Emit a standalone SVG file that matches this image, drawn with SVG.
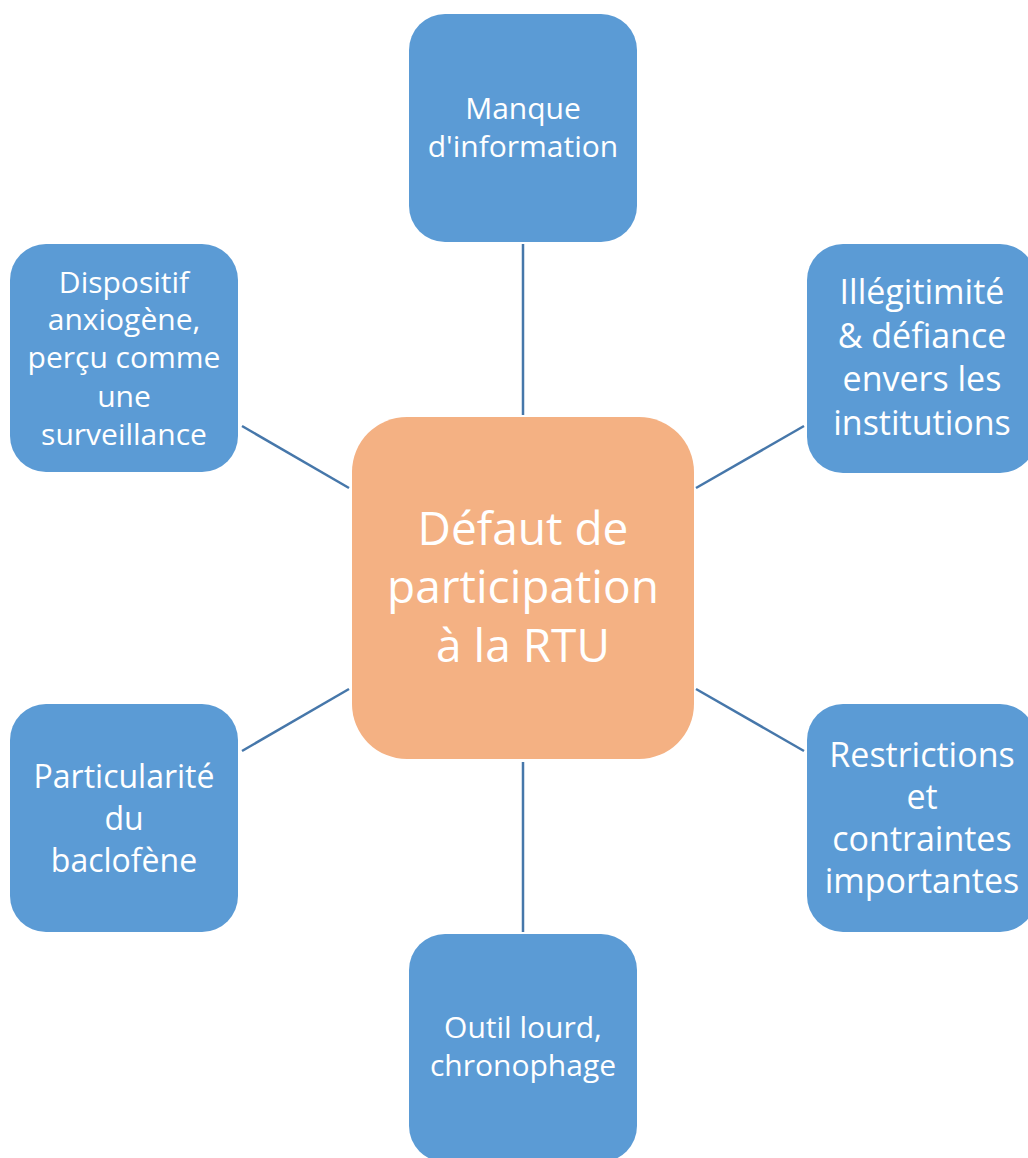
<svg xmlns="http://www.w3.org/2000/svg" width="1028" height="1158" viewBox="0 0 1028 1158">
<style>
.box{fill:#5B9BD5}
.core{fill:#F4B183}
.t{font-family:"Open Sans","Noto Sans",sans-serif;fill:#FFFFFF;text-anchor:middle}
.s{font-size:30px}
.m{font-size:34px}
.n{font-size:32px}
.l{font-size:46px}
.c{stroke:#4677AA;stroke-width:2.5;fill:none}
</style>
<rect width="1028" height="1158" fill="#FFFFFF"/>
<g id="connectors">
<line class="c" x1="523" y1="244" x2="523" y2="415"/>
<line class="c" x1="242" y1="426" x2="349" y2="488"/>
<line class="c" x1="696" y1="488" x2="804" y2="426"/>
<line class="c" x1="242" y1="751" x2="349" y2="689"/>
<line class="c" x1="696" y1="689" x2="804" y2="751"/>
<line class="c" x1="523" y1="762" x2="523" y2="932"/>
</g>
<g id="center">
<rect class="core" x="352" y="417" width="342" height="342" rx="55"/>
<text class="t l"><tspan x="523" y="545">Défaut de</tspan><tspan x="523" y="603">participation</tspan><tspan x="523" y="662">à la RTU</tspan></text>
</g>
<g id="top">
<rect class="box" x="409" y="14" width="228" height="228" rx="36"/>
<text class="t s"><tspan x="523" y="119">Manque</tspan><tspan x="523" y="157">d'information</tspan></text>
</g>
<g id="left-top">
<rect class="box" x="10" y="244" width="228" height="228" rx="36"/>
<text class="t s"><tspan x="124" y="293">Dispositif</tspan><tspan x="124" y="330">anxiogène,</tspan><tspan x="124" y="368">perçu comme</tspan><tspan x="124" y="407">une</tspan><tspan x="124" y="445">surveillance</tspan></text>
</g>
<g id="right-top">
<rect class="box" x="807" y="244" width="229" height="229" rx="36"/>
<text class="t m"><tspan x="922" y="304">Illégitimité</tspan><tspan x="922" y="348">&amp; défiance</tspan><tspan x="922" y="391">envers les</tspan><tspan x="922" y="435">institutions</tspan></text>
</g>
<g id="left-bottom">
<rect class="box" x="10" y="704" width="228" height="228" rx="36"/>
<text class="t n"><tspan x="124" y="788">Particularité</tspan><tspan x="124" y="830">du</tspan><tspan x="124" y="872">baclofène</tspan></text>
</g>
<g id="right-bottom">
<rect class="box" x="807" y="704" width="229" height="228" rx="36"/>
<text class="t m"><tspan x="922" y="767">Restrictions</tspan><tspan x="922" y="809">et</tspan><tspan x="922" y="851">contraintes</tspan><tspan x="922" y="893">importantes</tspan></text>
</g>
<g id="bottom">
<rect class="box" x="409" y="934" width="228" height="228" rx="36"/>
<text class="t s"><tspan x="523" y="1038">Outil lourd,</tspan><tspan x="523" y="1076">chronophage</tspan></text>
</g>
</svg>
